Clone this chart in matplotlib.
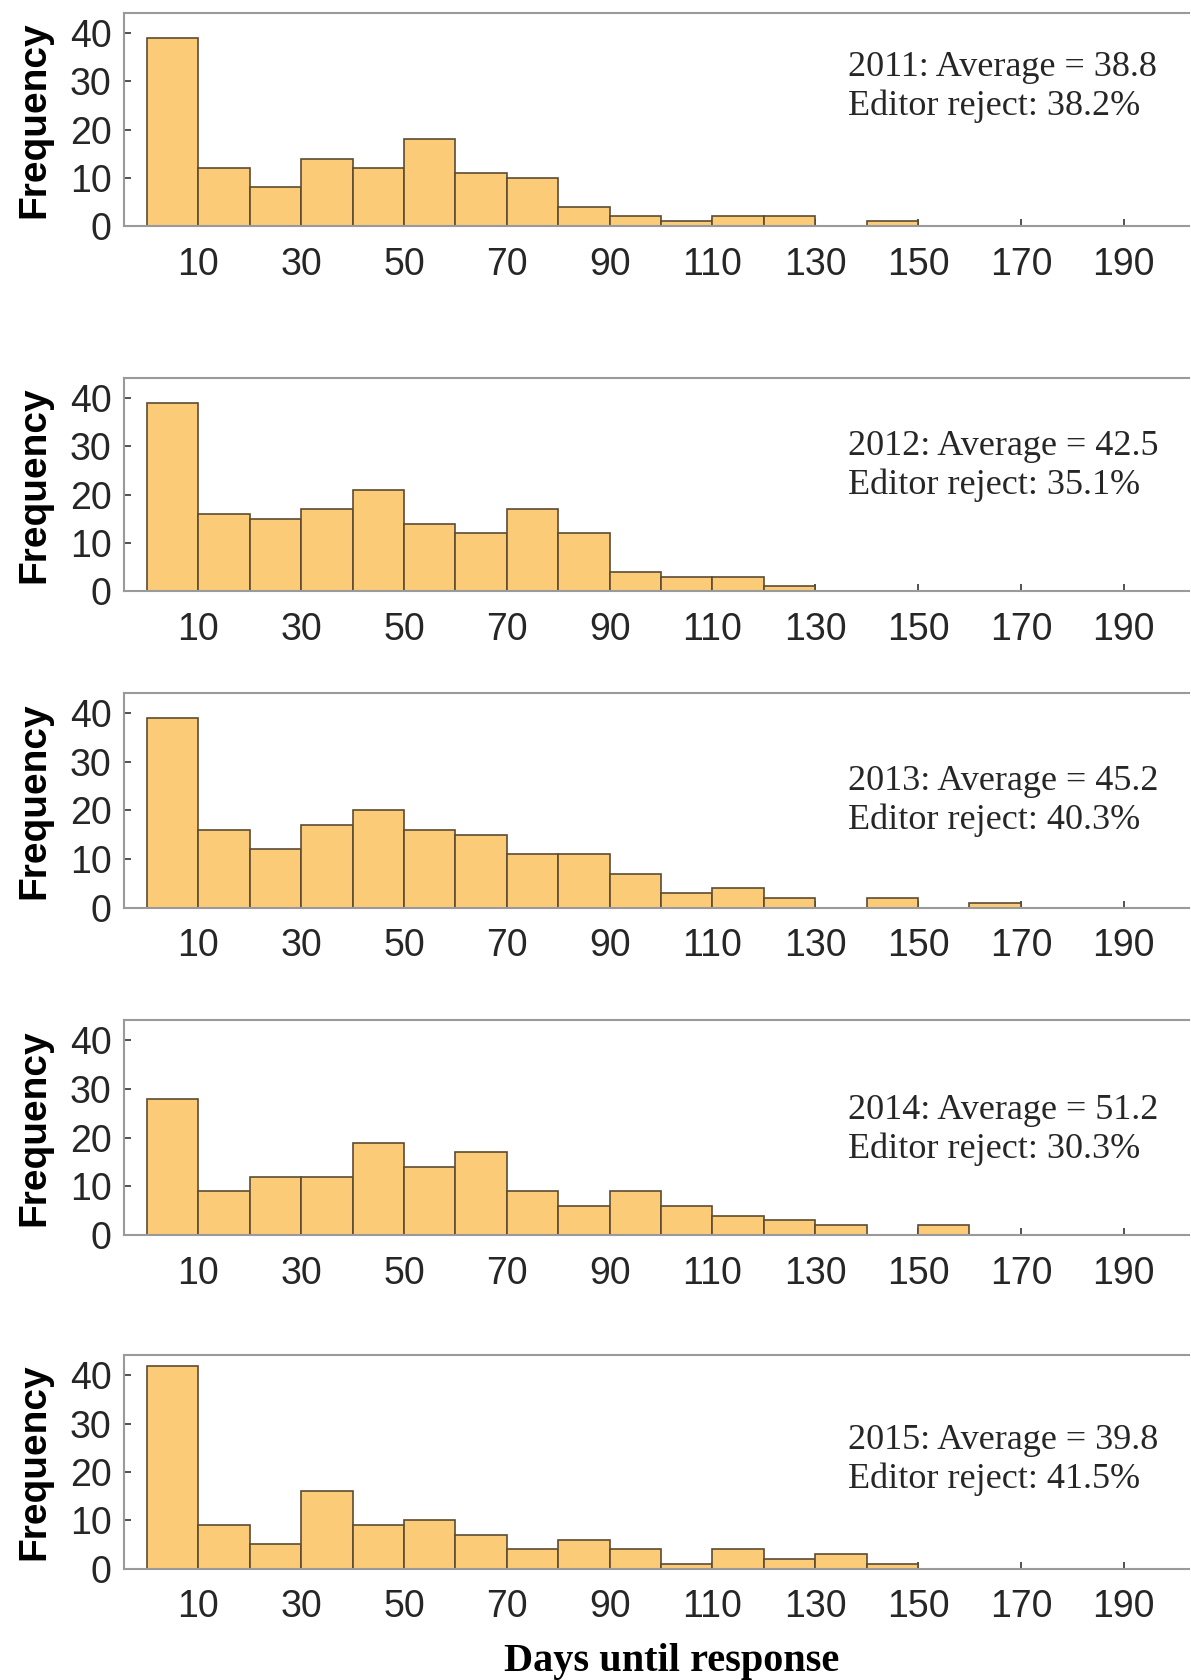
import matplotlib
matplotlib.use("Agg")
import matplotlib.pyplot as plt
import numpy as np

# histogram counts per 10-day bin, starting at day 0
years = [2011, 2012, 2013, 2014, 2015]
counts_2011 = [39, 12, 8, 14, 12, 18, 11, 10, 4, 2, 1, 2, 2, 0, 1]
counts_2012 = [39, 16, 15, 17, 21, 14, 12, 17, 12, 4, 3, 3, 1]
counts_2013 = [39, 16, 12, 17, 20, 16, 15, 11, 11, 7, 3, 4, 2, 0, 2, 0, 1]
counts_2014 = [28, 9, 12, 12, 19, 14, 17, 9, 6, 9, 6, 4, 3, 2, 0, 2]
counts_2015 = [42, 9, 5, 16, 9, 10, 7, 4, 6, 4, 1, 4, 2, 3, 1]
averages = [38.8, 42.5, 45.2, 51.2, 39.8]
editor_reject = [38.2, 35.1, 40.3, 30.3, 41.5]
bin_width = 10
x_ticks = list(range(10, 200, 20))
y_ticks = [0, 10, 20, 30, 40]

all_counts = [counts_2011, counts_2012, counts_2013, counts_2014, counts_2015]

# layout (figure pixels, top/bottom of each axes) and note heights
W, H = 1191, 1680
AX_LEFT, AX_RIGHT = 124.3, 1189
AX_TOPS = [13, 378, 693, 1020, 1355]
AX_BOTTOMS = [226, 591, 907.5, 1235, 1568.6]
NOTE_Y = [0.653, 0.585, 0.495, 0.488, 0.51]

FILL = '#FCCB78'
EDGE = '#5c4c33'
SPINE = '#9a9a9a'
TXT = '#262626'

fig = plt.figure(figsize=(W / 100, H / 100), dpi=100)

for i, counts in enumerate(all_counts):
    top, bottom = AX_TOPS[i], AX_BOTTOMS[i]
    ax = fig.add_axes([AX_LEFT / W, 1 - bottom / H,
                       (AX_RIGHT - AX_LEFT) / W, (bottom - top) / H])

    lefts = np.arange(len(counts)) * bin_width
    vals = np.array(counts)
    keep = vals > 0
    ax.bar(lefts[keep], vals[keep], width=bin_width, align='edge',
           color=FILL, edgecolor=EDGE, linewidth=1.2, zorder=2)

    ax.set_xlim(-4.4, 202.7)
    ax.set_ylim(0, 44.2)
    ax.set_xticks(x_ticks)
    ax.set_yticks(y_ticks)
    ax.tick_params(direction='in', length=5, width=1.2, color='#333333',
                   labelcolor=TXT, labelsize=27)
    ax.tick_params(axis='x', pad=15)
    ax.tick_params(axis='y', pad=9)
    for lab in ax.get_xticklabels() + ax.get_yticklabels():
        lab.set_family('Liberation Sans')

    ax.spines['right'].set_visible(False)
    for side in ['top', 'left', 'bottom']:
        ax.spines[side].set_color(SPINE)
        ax.spines[side].set_linewidth(1.5)

    ax.set_ylabel('Frequency', fontsize=28, fontweight='bold',
                  family='Liberation Sans', color='black', labelpad=13)

    note = '%d: Average = %.1f\nEditor reject: %.1f%%' % (
        years[i], averages[i], editor_reject[i])
    ax.text(0.68, NOTE_Y[i], note, transform=ax.transAxes, ha='left',
            va='center', fontsize=26, family='Liberation Serif',
            color=TXT, linespacing=1.22)

fig.text(672 / W, 1 - 1661 / H, 'Days until response', ha='center',
         va='center', fontsize=29, fontweight='bold',
         family='Liberation Serif', color='black')

fig.savefig('out.png', dpi=100)
